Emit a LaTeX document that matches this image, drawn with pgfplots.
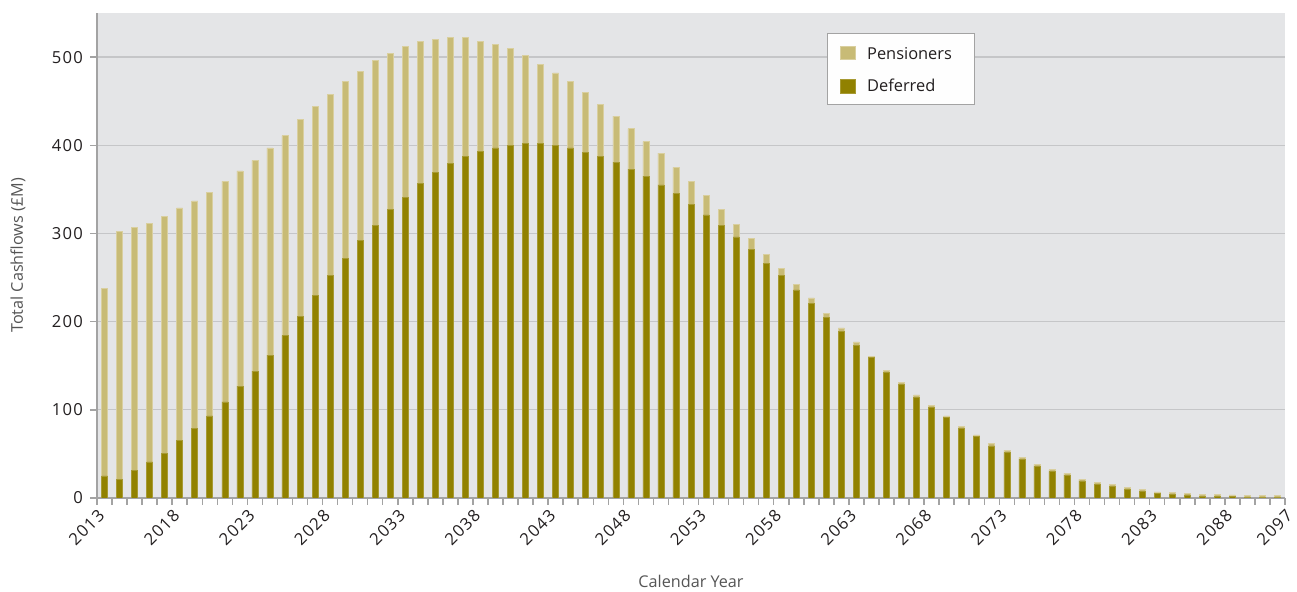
\documentclass[border=0pt]{standalone}
\usepackage{fontspec}
\setmainfont{Open Sans}
\newfontfamily\tickfont[LetterSpace=8]{Open Sans}
\usepackage{pgfplots}
\usepackage{pgfplotstable}
\pgfplotsset{compat=1.18}

\definecolor{pens}{HTML}{C8BB76}
\definecolor{defe}{HTML}{918100}
\definecolor{plotbg}{HTML}{E4E5E7}
\definecolor{gridc}{HTML}{C5C6C8}
\definecolor{axc}{HTML}{A3A3A3}
\definecolor{labc}{HTML}{555555}
\definecolor{tickc}{HTML}{231F20}

\pgfplotsset{sqleg/.style={legend image code/.code={\fill[##1] (0pt,-3.3pt) rectangle (7.5pt,3.3pt);}}}

% x = category centre (2013 -> 0.5), def = deferred, pen = pensioners
\pgfplotstableread{
x def pen
0.5 25 213
1.5 21 281
2.5 31 276
3.5 41 270
4.5 51 268
5.5 65 264
6.5 79 258
7.5 93 254
8.5 109 250
9.5 127 244
10.5 144 239
11.5 162 235
12.5 184 227
13.5 206 223
14.5 230 214
15.5 252 206
16.5 272 200
17.5 292 192
18.5 309 187
19.5 327 177
20.5 341 171
21.5 357 161
22.5 369 151
23.5 379 143
24.5 387 135
25.5 393 125
26.5 397 117
27.5 400 110
28.5 402 100
29.5 402 90
30.5 400 82
31.5 397 75
32.5 392 68
33.5 387 59
34.5 381 52
35.5 373 46
36.5 365 39
37.5 355 36
38.5 345 30
39.5 333 26
40.5 321 22
41.5 309 18
42.5 296 14
43.5 282 12
44.5 266 10
45.5 252 8
46.5 236 6
47.5 221 6
48.5 205 4
49.5 189 4
50.5 173 4
51.5 159 2
52.5 142.5 2
53.5 128.5 2.5
54.5 114.5 2.5
55.5 103 2
56.5 91 2
57.5 79 2.5
58.5 69.5 2
59.5 59 2.5
60.5 51.5 2.5
61.5 44 2
62.5 36 2
63.5 30 2
64.5 26 2
65.5 19.5 2
66.5 15.5 2.3
67.5 13.3 2.5
68.5 9.5 2.2
69.5 7.6 2.2
70.5 5 2
71.5 4 2
72.5 3.5 1.5
73.5 2 1.8
74.5 2 1.8
75.5 1.8 1.7
76.5 0.5 2.2
77.5 0.3 2.4
78.5 0.3 2.4
}\cashflows

\begin{document}
\begin{tikzpicture}
\begin{axis}[
  scale only axis, width=594pt, height=242.5pt,
  xmin=0, xmax=79, ymin=0, ymax=550,
  ybar stacked, bar width=0.4,
  axis background/.style={fill=plotbg},
  axis x line*=bottom, axis y line*=left,
  axis line style={axc, line width=0.75pt, -},
  tick align=outside,
  major tick length=3.5pt, minor tick length=3.5pt,
  every tick/.style={axc, line width=0.75pt},
  xtick={0,5,10,15,20,25,30,35,40,45,50,55,60,65,70,75,79},
  xticklabels={2013,2018,2023,2028,2033,2038,2043,2048,2053,2058,2063,2068,2073,2078,2083,2088,2097},
  minor xtick={0,...,79},
  ytick={0,100,200,300,400,500},
  ymajorgrids, grid style={gridc, line width=0.65pt},
  /pgf/number format/assume math mode=true,
  ticklabel style={font=\tickfont\fontsize{8.3}{10}\selectfont, text=tickc},
  x tick label style={rotate=45, anchor=north east, inner sep=1pt},
  xlabel={Calendar Year},
  ylabel={Total Cashflows (£M)},
  label style={font=\fontsize{8.1}{10}\selectfont, text=labc},
  xlabel style={at={(axis description cs:0.5,-0.185)}, anchor=base},
  ylabel style={at={(axis description cs:-0.0666,0.5)}, anchor=center},
  reverse legend,
  legend cell align=left,
  legend style={at={(0.6145,0.9588)}, anchor=north west, draw=axc,
    fill=white!96!plotbg, line width=0.5pt,
    font=\fontsize{8.2}{10}\selectfont, text=tickc,
    inner xsep=6pt, inner ysep=3pt, row sep=4pt, column sep=4pt},
]
\addplot[sqleg, fill=defe, draw=defe!80!white, line width=0.3pt] table[x=x, y=def] {\cashflows};
\addlegendentry{Deferred\kern3.5pt}
\addplot[sqleg, fill=pens, draw=pens!70!white, line width=0.3pt] table[x=x, y=pen] {\cashflows};
\addlegendentry{\rule{0pt}{8pt}Pensioners\kern3.5pt}
\end{axis}
\pgfresetboundingbox
\path ([shift={(-48.5pt,-47pt)}]current axis.south west) rectangle ([shift={(6pt,6.5pt)}]current axis.north east);
\end{tikzpicture}
\end{document}
